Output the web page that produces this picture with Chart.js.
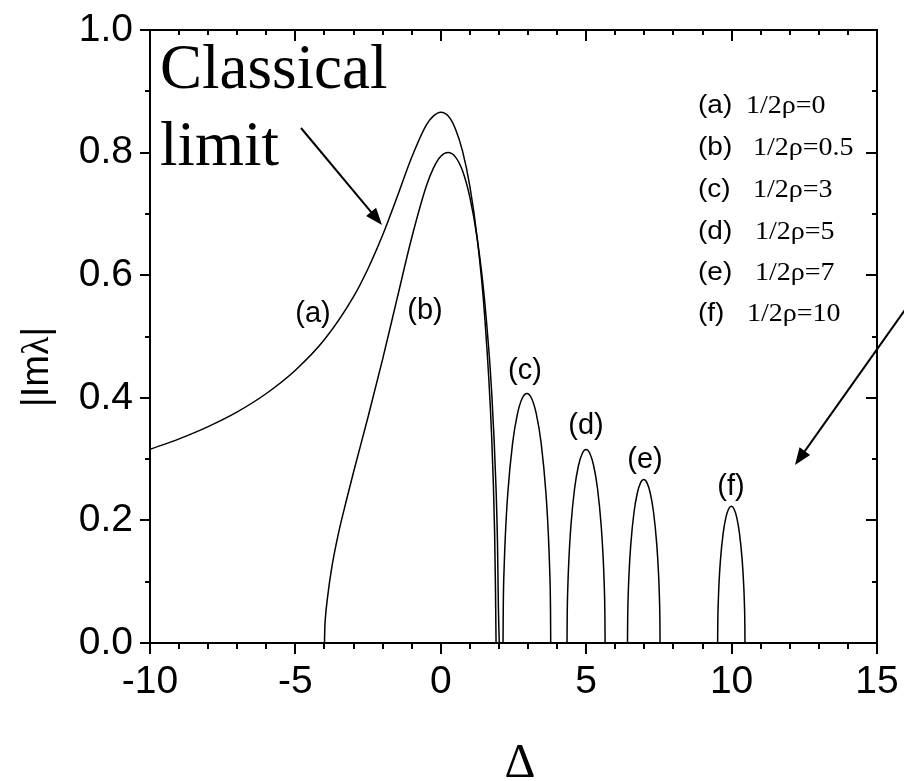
<!DOCTYPE html>
<html>
<head>
<meta charset="utf-8">
<script src="https://cdn.jsdelivr.net/npm/chart.js@4.4.1/dist/chart.umd.min.js"></script>
<style>
  html, body { margin: 0; padding: 0; background: #fff; }
  #wrap { width: 904px; height: 781px; }
</style>
</head>
<body>
<div id="wrap"><canvas id="growth" width="904" height="781"></canvas></div>
<script>
// detuning (x) and growth rate |Im lambda| (y) for each curve
const deltaA = [-10, -9, -8, -7, -6, -5, -4, -3, -2.5, -2, -1.5, -1, -0.5, -0.25, 0, 0.25, 0.5, 0.75, 1, 1.25, 1.5, 1.75, 1.85, 1.88, 1.9];
const imA    = [0.316, 0.333, 0.353, 0.377, 0.407, 0.445, 0.495, 0.565, 0.611, 0.6655, 0.728, 0.7925, 0.845, 0.860, 0.866, 0.860, 0.839, 0.802, 0.745, 0.661, 0.539, 0.336, 0.182, 0.091, 0];

const deltaB = [-4, -3.99, -3.97, -3.9, -3.75, -3.5, -3.25, -3, -2.5, -2, -1.5, -1, -0.5, -0.25, 0, 0.25, 0.5, 0.75, 1, 1.25, 1.5, 1.75, 1.9, 1.95, 1.98, 2.01];
const imB    = [0, 0.023, 0.040, 0.0725, 0.123, 0.183, 0.232, 0.279, 0.369, 0.463, 0.5625, 0.661, 0.745, 0.775, 0.794, 0.800, 0.793, 0.770, 0.727, 0.6605, 0.562, 0.409, 0.2515, 0.162, 0.0585, 0];

const deltaC = [2.140, 2.148, 2.181, 2.222, 2.304, 2.468, 2.632, 2.796, 2.960, 3.124, 3.288, 3.452, 3.616, 3.698, 3.739, 3.772, 3.780];
const imC    = [0, 0.0574, 0.1271, 0.1774, 0.2442, 0.3256, 0.3730, 0.3988, 0.407, 0.3988, 0.3730, 0.3256, 0.2442, 0.1774, 0.1271, 0.0574, 0];

const deltaD = [4.340, 4.347, 4.373, 4.406, 4.471, 4.602, 4.733, 4.864, 4.995, 5.126, 5.257, 5.388, 5.519, 5.585, 5.617, 5.643, 5.650];
const imD    = [0, 0.0445, 0.0985, 0.1375, 0.1893, 0.2524, 0.2892, 0.3091, 0.3155, 0.3091, 0.2892, 0.2524, 0.1893, 0.1375, 0.0985, 0.0445, 0];

const deltaE = [6.420, 6.426, 6.448, 6.476, 6.532, 6.644, 6.756, 6.868, 6.980, 7.092, 7.204, 7.316, 7.428, 7.484, 7.512, 7.534, 7.540];
const imE    = [0, 0.0376, 0.0832, 0.1162, 0.1600, 0.2133, 0.2443, 0.2612, 0.2666, 0.2612, 0.2443, 0.2133, 0.1600, 0.1162, 0.0832, 0.0376, 0];

const deltaF = [9.520, 9.525, 9.544, 9.567, 9.614, 9.708, 9.802, 9.896, 9.990, 10.084, 10.178, 10.272, 10.366, 10.413, 10.437, 10.455, 10.460];
const imF    = [0, 0.0315, 0.0697, 0.0972, 0.1339, 0.1785, 0.2045, 0.2186, 0.2231, 0.2186, 0.2045, 0.1785, 0.1339, 0.0972, 0.0697, 0.0315, 0];

const xTicks = [-10, -5, 0, 5, 10, 15];
const yTicks = [0, 0.2, 0.4, 0.6, 0.8, 1.0];

const curveNames = ['(a)', '(b)', '(c)', '(d)', '(e)', '(f)'];
const rhoValues = ['0', '0.5', '3', '5', '7', '10'];

const SANS = '"Liberation Sans", Arial, sans-serif';
const SERIF = '"Liberation Serif", "Times New Roman", serif';

function toPoints(xs, ys) {
  return xs.map((x, i) => ({ x: x, y: ys[i] }));
}

const series = [[deltaA, imA], [deltaB, imB], [deltaC, imC], [deltaD, imD], [deltaE, imE], [deltaF, imF]];

function arrow(ctx, x1, y1, x2, y2) {
  const ang = Math.atan2(y2 - y1, x2 - x1);
  const len = 17, half = 6.5;
  ctx.beginPath();
  ctx.moveTo(x1, y1);
  ctx.lineTo(x2 - Math.cos(ang) * len * 0.8, y2 - Math.sin(ang) * len * 0.8);
  ctx.lineWidth = 2;
  ctx.stroke();
  ctx.beginPath();
  ctx.moveTo(x2, y2);
  ctx.lineTo(x2 - Math.cos(ang) * len - Math.sin(ang) * half, y2 - Math.sin(ang) * len + Math.cos(ang) * half);
  ctx.lineTo(x2 - Math.cos(ang) * len + Math.sin(ang) * half, y2 - Math.sin(ang) * len - Math.cos(ang) * half);
  ctx.closePath();
  ctx.fill();
}

// keep the plot box fixed: drop the extra room chart.js adds for edge labels
function noEdgePadding(scale) {
  scale.paddingLeft = 0;
  scale.paddingRight = 0;
  scale.paddingTop = 0;
  scale.paddingBottom = 0;
}

// frame, inner/outer ticks, annotations
const framePlugin = {
  id: 'frame',
  afterDraw(chart) {
    const ctx = chart.ctx;
    const xs = chart.scales.x, ys = chart.scales.y;
    const { left, right, top, bottom } = chart.chartArea;
    ctx.save();
    ctx.strokeStyle = '#000';
    ctx.fillStyle = '#000';
    ctx.lineWidth = 2;
    ctx.strokeRect(left, top, right - left, bottom - top);

    // x ticks: every unit, majors at labelled values
    for (let v = xTicks[0]; v <= xTicks[xTicks.length - 1]; v++) {
      const px = Math.round(xs.getPixelForValue(v));
      const major = xTicks.includes(v);
      ctx.beginPath();
      ctx.moveTo(px, bottom); ctx.lineTo(px, bottom + (major ? 11 : 6));
      ctx.moveTo(px, top); ctx.lineTo(px, top + (major ? 11 : 5));
      ctx.stroke();
    }
    // y ticks: every 0.1
    for (let k = 0; k <= 10; k++) {
      const v = k / 10;
      const py = Math.round(ys.getPixelForValue(v));
      const major = k % 2 === 0;
      ctx.beginPath();
      ctx.moveTo(left, py); ctx.lineTo(left - (major ? 10 : 5), py);
      ctx.moveTo(right, py); ctx.lineTo(right - (major ? 11 : 5), py);
      ctx.stroke();
    }

    // axis titles
    ctx.textAlign = 'left';
    ctx.textBaseline = 'alphabetic';
    ctx.font = '48px ' + SERIF;
    const dw = ctx.measureText('\u0394').width;
    ctx.fillText('\u0394', 520 - dw / 2, 777);

    ctx.save();
    ctx.translate(48, 367);
    ctx.rotate(-Math.PI / 2);
    const parts = [['|Im', SANS], ['\u03bb', SERIF], ['|', SANS]];
    let total = 0;
    parts.forEach(p => { ctx.font = '38px ' + p[1]; total += ctx.measureText(p[0]).width; });
    let cx = -total / 2;
    parts.forEach(p => {
      ctx.font = '38px ' + p[1];
      ctx.fillText(p[0], cx, 0);
      cx += ctx.measureText(p[0]).width;
    });
    ctx.restore();

    // "Classical limit" note with arrows
    ctx.font = '63px ' + SERIF;
    ctx.fillText('Classical', 160, 88);
    ctx.fillText('limit', 160, 165);
    arrow(ctx, 301, 128, 382, 225);
    arrow(ctx, 912, 300, 795, 465);

    // curve labels
    const labelPos = [[313, 314], [425, 311], [525, 371], [586, 426], [645, 460], [731, 487]];
    ctx.font = '29px ' + SANS;
    ctx.textAlign = 'center';
    curveNames.forEach((name, i) => {
      ctx.fillText(name, labelPos[i][0], labelPos[i][1] + 8);
    });

    // parameter list
    ctx.textAlign = 'left';
    const rowY = [113, 155, 197, 239, 280, 321];
    const valX = [746, 753, 753, 755, 755, 747];
    curveNames.forEach((name, i) => {
      ctx.save();
      ctx.translate(698, rowY[i]);
      ctx.scale(1.12, 1);
      ctx.font = '25px ' + SANS;
      ctx.fillText(name, 0, 0);
      ctx.restore();
      ctx.save();
      ctx.translate(valX[i], rowY[i]);
      ctx.scale(1.12, 1);
      ctx.font = '25px ' + SERIF;
      ctx.fillText('1/2\u03c1=' + rhoValues[i], 0, 0);
      ctx.restore();
    });
    ctx.restore();
  }
};

new Chart(document.getElementById('growth'), {
  type: 'scatter',
  data: {
    datasets: series.map((s, i) => ({
      label: curveNames[i],
      data: toPoints(s[0], s[1]),
      showLine: true,
      borderColor: '#000',
      borderWidth: 1.5,
      pointRadius: 0,
      cubicInterpolationMode: 'monotone',
      fill: false
    }))
  },
  options: {
    responsive: false,
    animation: false,
    devicePixelRatio: 1,
    layout: { padding: { left: 0, top: 30, right: 27, bottom: 0 } },
    plugins: {
      legend: { display: false },
      tooltip: { enabled: false }
    },
    scales: {
      x: {
        type: 'linear',
        min: -10,
        max: 15,
        afterFit: (scale) => { scale.height = 138; noEdgePadding(scale); },
        afterBuildTicks: (scale) => { scale.ticks = xTicks.map(v => ({ value: v })); },
        grid: { display: false, drawTicks: false, tickLength: 0 },
        border: { display: false },
        ticks: {
          padding: 16,
          color: '#000',
          font: { family: SANS, size: 39 },
          maxRotation: 0,
          callback: (v) => String(v)
        }
      },
      y: {
        type: 'linear',
        min: 0,
        max: 1,
        afterFit: (scale) => { scale.width = 150; noEdgePadding(scale); },
        afterBuildTicks: (scale) => { scale.ticks = yTicks.map(v => ({ value: v })); },
        grid: { display: false, drawTicks: false, tickLength: 0 },
        border: { display: false },
        ticks: {
          padding: 17,
          color: '#000',
          font: { family: SANS, size: 39 },
          callback: (v) => Number(v).toFixed(1)
        }
      }
    }
  },
  plugins: [framePlugin]
});
</script>
</body>
</html>
